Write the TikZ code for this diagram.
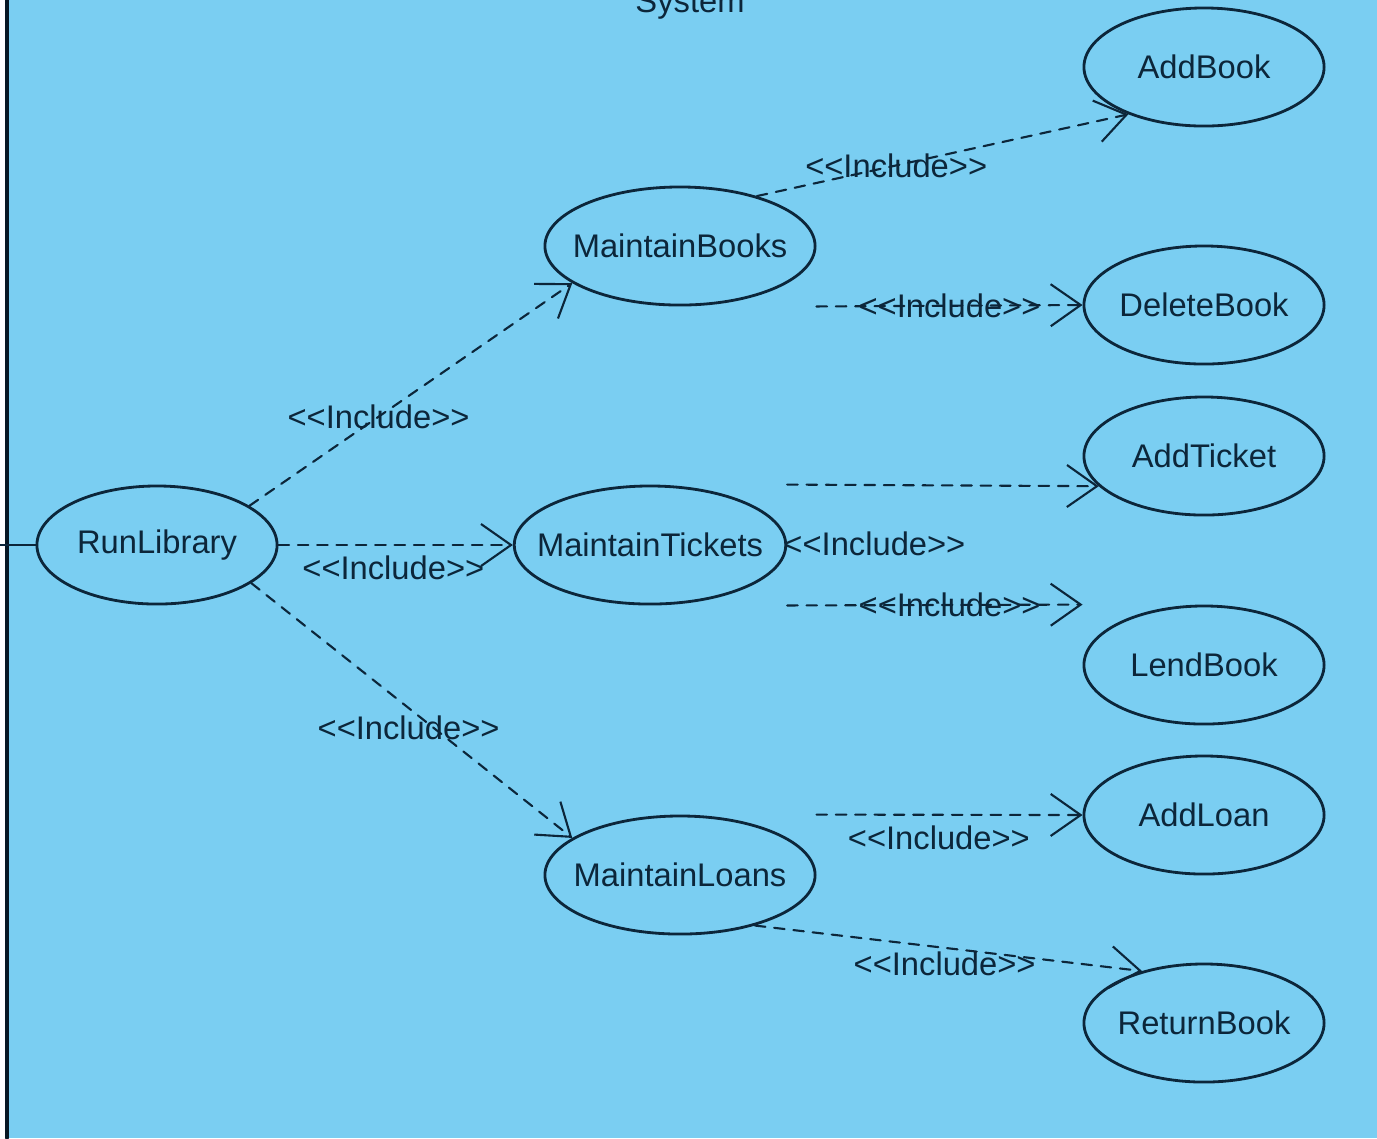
\documentclass[tikz,border=0pt]{standalone}
\usepackage{fontspec}
\setmainfont{Liberation Sans}[Ligatures=TeXOff]
\usepackage{xcolor}
\usepackage{tikz}
\usetikzlibrary{arrows.meta,shapes.geometric}
\definecolor{sysblue}{RGB}{122,206,242}
\definecolor{umlink}{RGB}{12,38,58}

\begin{document}
\begin{tikzpicture}[line cap=round,line join=round,x=0.01cm,y=-0.01cm,
	usecase/.style={draw=umlink,ellipse,line width=0.8pt,minimum width=2.4cm,minimum height=1.18cm,inner xsep=-0.17cm,inner ysep=0pt,text=umlink,font=\fontsize{9.3}{11}\selectfont},
	widecase/.style={usecase,minimum width=2.7cm},
	incl/.style={draw=umlink,line width=0.6pt,dash pattern=on 3pt off 2.5pt,-{Straight Barb[length=0.3cm,width=0.42cm]}},
	lbl/.style={text=umlink,font=\fontsize{9.3}{11}\selectfont,inner sep=0pt}]
	\useasboundingbox (0,0) rectangle (1377,1138);
	\clip (0,0) rectangle (1377,1138);
	\fill[white] (0,0) rectangle (1377,1138);
	\fill[sysblue] (7,0) rectangle (1377,1138);
	\coordinate (frametop) at (7,0);
	\coordinate (framebot) at (7,1138);
	\draw[umlink!60!black,line width=0.9pt] (frametop) -- (framebot);
	\node[lbl,anchor=base] (systitle) at (690,12) {System};
	\node[usecase] (runlib) at (157,545) {RunLibrary};
	\node[widecase] (mbooks) at (680,246) {MaintainBooks};
	\node[widecase,minimum width=2.68cm] (mtickets) at (650,545) {MaintainTickets};
	\node[widecase] (mloans) at (680,875) {MaintainLoans};
	\node[usecase] (addbook) at (1204,67) {AddBook};
	\node[usecase] (delbook) at (1204,305) {DeleteBook};
	\node[usecase] (addticket) at (1204,456) {AddTicket};
	\node[usecase] (lendbook) at (1204,665) {LendBook};
	\node[usecase] (addloan) at (1204,815) {AddLoan};
	\node[usecase] (retbook) at (1204,1023) {ReturnBook};
	\coordinate (actor) at (0,545);
	\draw[umlink,line width=0.7pt] (actor) -- (runlib.west);
	\draw[incl] (runlib.23) -- node[lbl,pos=0.4] {<<Include>>} (mbooks.199);
	\draw[incl] (runlib.east) -- node[lbl,pos=0.49,yshift=-0.23cm] {<<Include>>} (mtickets.west);
	\draw[incl] (runlib.-22) -- node[lbl,pos=0.49,yshift=-0.2cm] {<<Include>>} (mloans.161);
	\draw[incl] (mbooks.33) -- node[lbl,pos=0.375] {<<Include>>} (addbook.212);
	\draw[incl] (mbooks.south -| mbooks.east) -- node[lbl,pos=0.5] {<<Include>>} (delbook.west);
	\draw[incl] (mtickets.north -| mtickets.east) -- node[lbl,pos=0.28,yshift=-0.59cm] {<<Include>>} (addticket.196);
	\draw[incl] (mtickets.south -| mtickets.east) -- node[lbl,pos=0.55] {<<Include>>} (lendbook.north -| lendbook.west);
	\draw[incl] (mloans.north -| mloans.east) -- node[lbl,pos=0.46,yshift=-0.23cm] {<<Include>>} (addloan.west);
	\draw[incl] (mloans.-34) -- node[lbl,pos=0.49,yshift=-0.16cm] {<<Include>>} (retbook.140);
\end{tikzpicture}
\end{document}
